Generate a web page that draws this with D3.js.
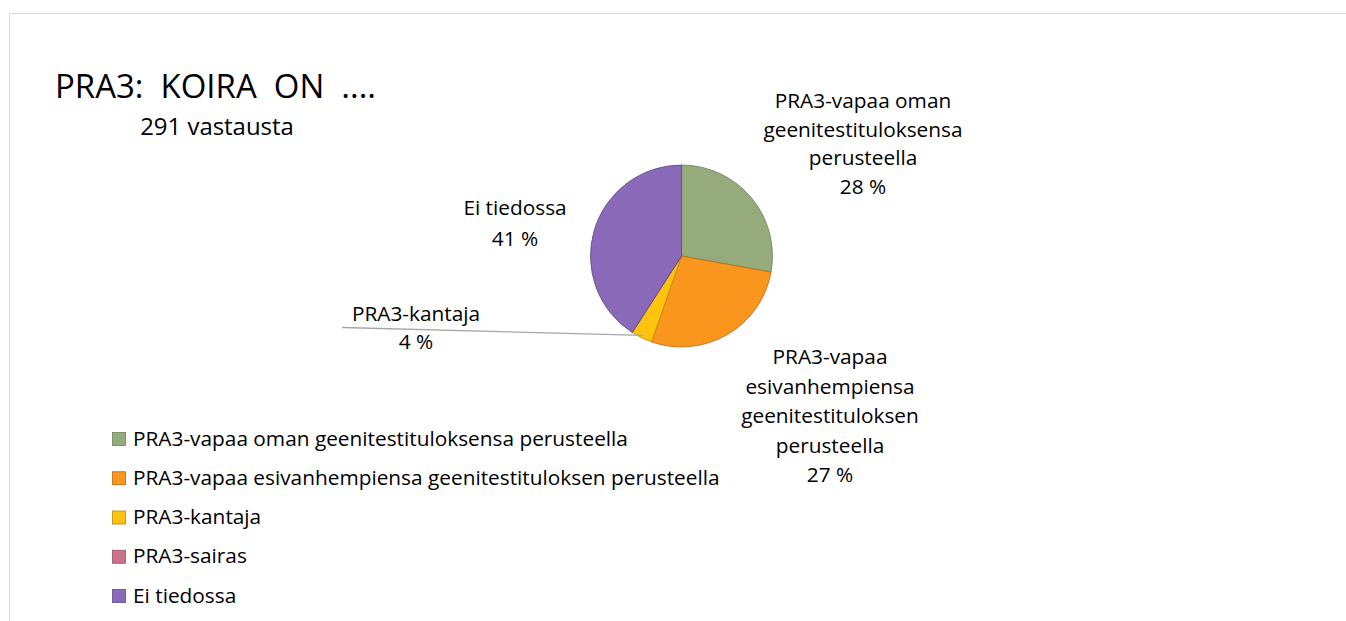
<!DOCTYPE html>
<html><head><meta charset="utf-8">
<script src="https://cdn.jsdelivr.net/npm/d3@7"></script>
<style>body{margin:0;background:#fff}svg{display:block}text{font-family:"Open Sans", sans-serif;fill:#000;font-variant-ligatures:none}</style>
</head><body><svg id="c" width="1346" height="621"></svg>
<script>
const categories = ["PRA3-vapaa oman geenitestituloksensa perusteella","PRA3-vapaa esivanhempiensa geenitestituloksen perusteella","PRA3-kantaja","PRA3-sairas","Ei tiedossa"];
const values = [81, 80, 11, 0, 119];
const colors = ["#95AB7B","#FA951E","#FFC20E","#C9748B","#8A69B8"];
const strokes = ["#6d7f59","#b86a12","#b88a00","#955468","#5f4787"];
const labelLines = [["PRA3-vapaa oman","geenitestituloksensa","perusteella"],["PRA3-vapaa","esivanhempiensa","geenitestituloksen","perusteella"],["PRA3-kantaja"],[],["Ei tiedossa"]];
const title = "PRA3:  KOIRA  ON  ....";
const subtitle = "291 vastausta";

const svg = d3.select("#c");
svg.append("path").attr("d","M9.5,621 V13.5 H1346").attr("fill","none").attr("stroke","#d9d9d9").attr("stroke-width",1);

function fitSize(str, base, target){
  const t = svg.append("text").attr("font-size",base).attr("xml:space","preserve").text(str);
  const w = t.node().getComputedTextLength(); t.remove();
  return base*target/w;
}
const fs = fitSize(categories[1], 18, 587);
const fsT = fitSize(title, 27, 321);

svg.append("text").attr("x",55).attr("y",98).attr("font-size",fsT).attr("xml:space","preserve").text(title);
svg.append("text").attr("x",217).attr("y",135).attr("text-anchor","middle").attr("font-size",fs*1.15).text(subtitle);

const cx=681.5, cy=256, r=91;
const total = d3.sum(values);
const pie = d3.pie().sort(null).value(d=>d)(values);
const arc = d3.arc().innerRadius(0).outerRadius(r);
const g = svg.append("g").attr("transform",`translate(${cx},${cy})`);
g.selectAll("path").data(pie).join("path").attr("d",arc)
 .attr("fill",(d,i)=>colors[i]).attr("stroke",(d,i)=>strokes[i]).attr("stroke-width",0.8);

const pct = v => Math.round(v/total*100) + " %";
const labelPos = [[863,108],[830,364],[416,321],null,[515,215]];
const lh = [28.7,29.5,28,0,30.5];
labelPos.forEach((p,i)=>{
  if(!p) return;
  const t = svg.append("text").attr("text-anchor","middle").attr("font-size",fs);
  const lines = labelLines[i].concat([pct(values[i])]);
  lines.forEach((s,j)=>t.append("tspan").attr("x",p[0]).attr("y",p[1]+j*lh[i]).text(s));
});
const a2 = pie[2];
const mid = (a2.startAngle+a2.endAngle)/2;
svg.append("line").attr("x1",342).attr("y1",327.5)
 .attr("x2",cx+Math.sin(mid)*r*0.97).attr("y2",cy-Math.cos(mid)*r*0.97)
 .attr("stroke","#a6a6a6").attr("stroke-width",1.3);

const leg = svg.append("g");
const ly = d3.scalePoint().domain(categories).range([439,596]);
categories.forEach((c,i)=>{
  leg.append("rect").attr("x",112.5).attr("y",ly(c)-6.5).attr("width",13).attr("height",13)
    .attr("fill",colors[i]).attr("stroke",strokes[i]).attr("stroke-width",0.8);
  leg.append("text").attr("x",133).attr("y",ly(c)+6.5).attr("font-size",fs).text(c);
});
</script></body></html>
